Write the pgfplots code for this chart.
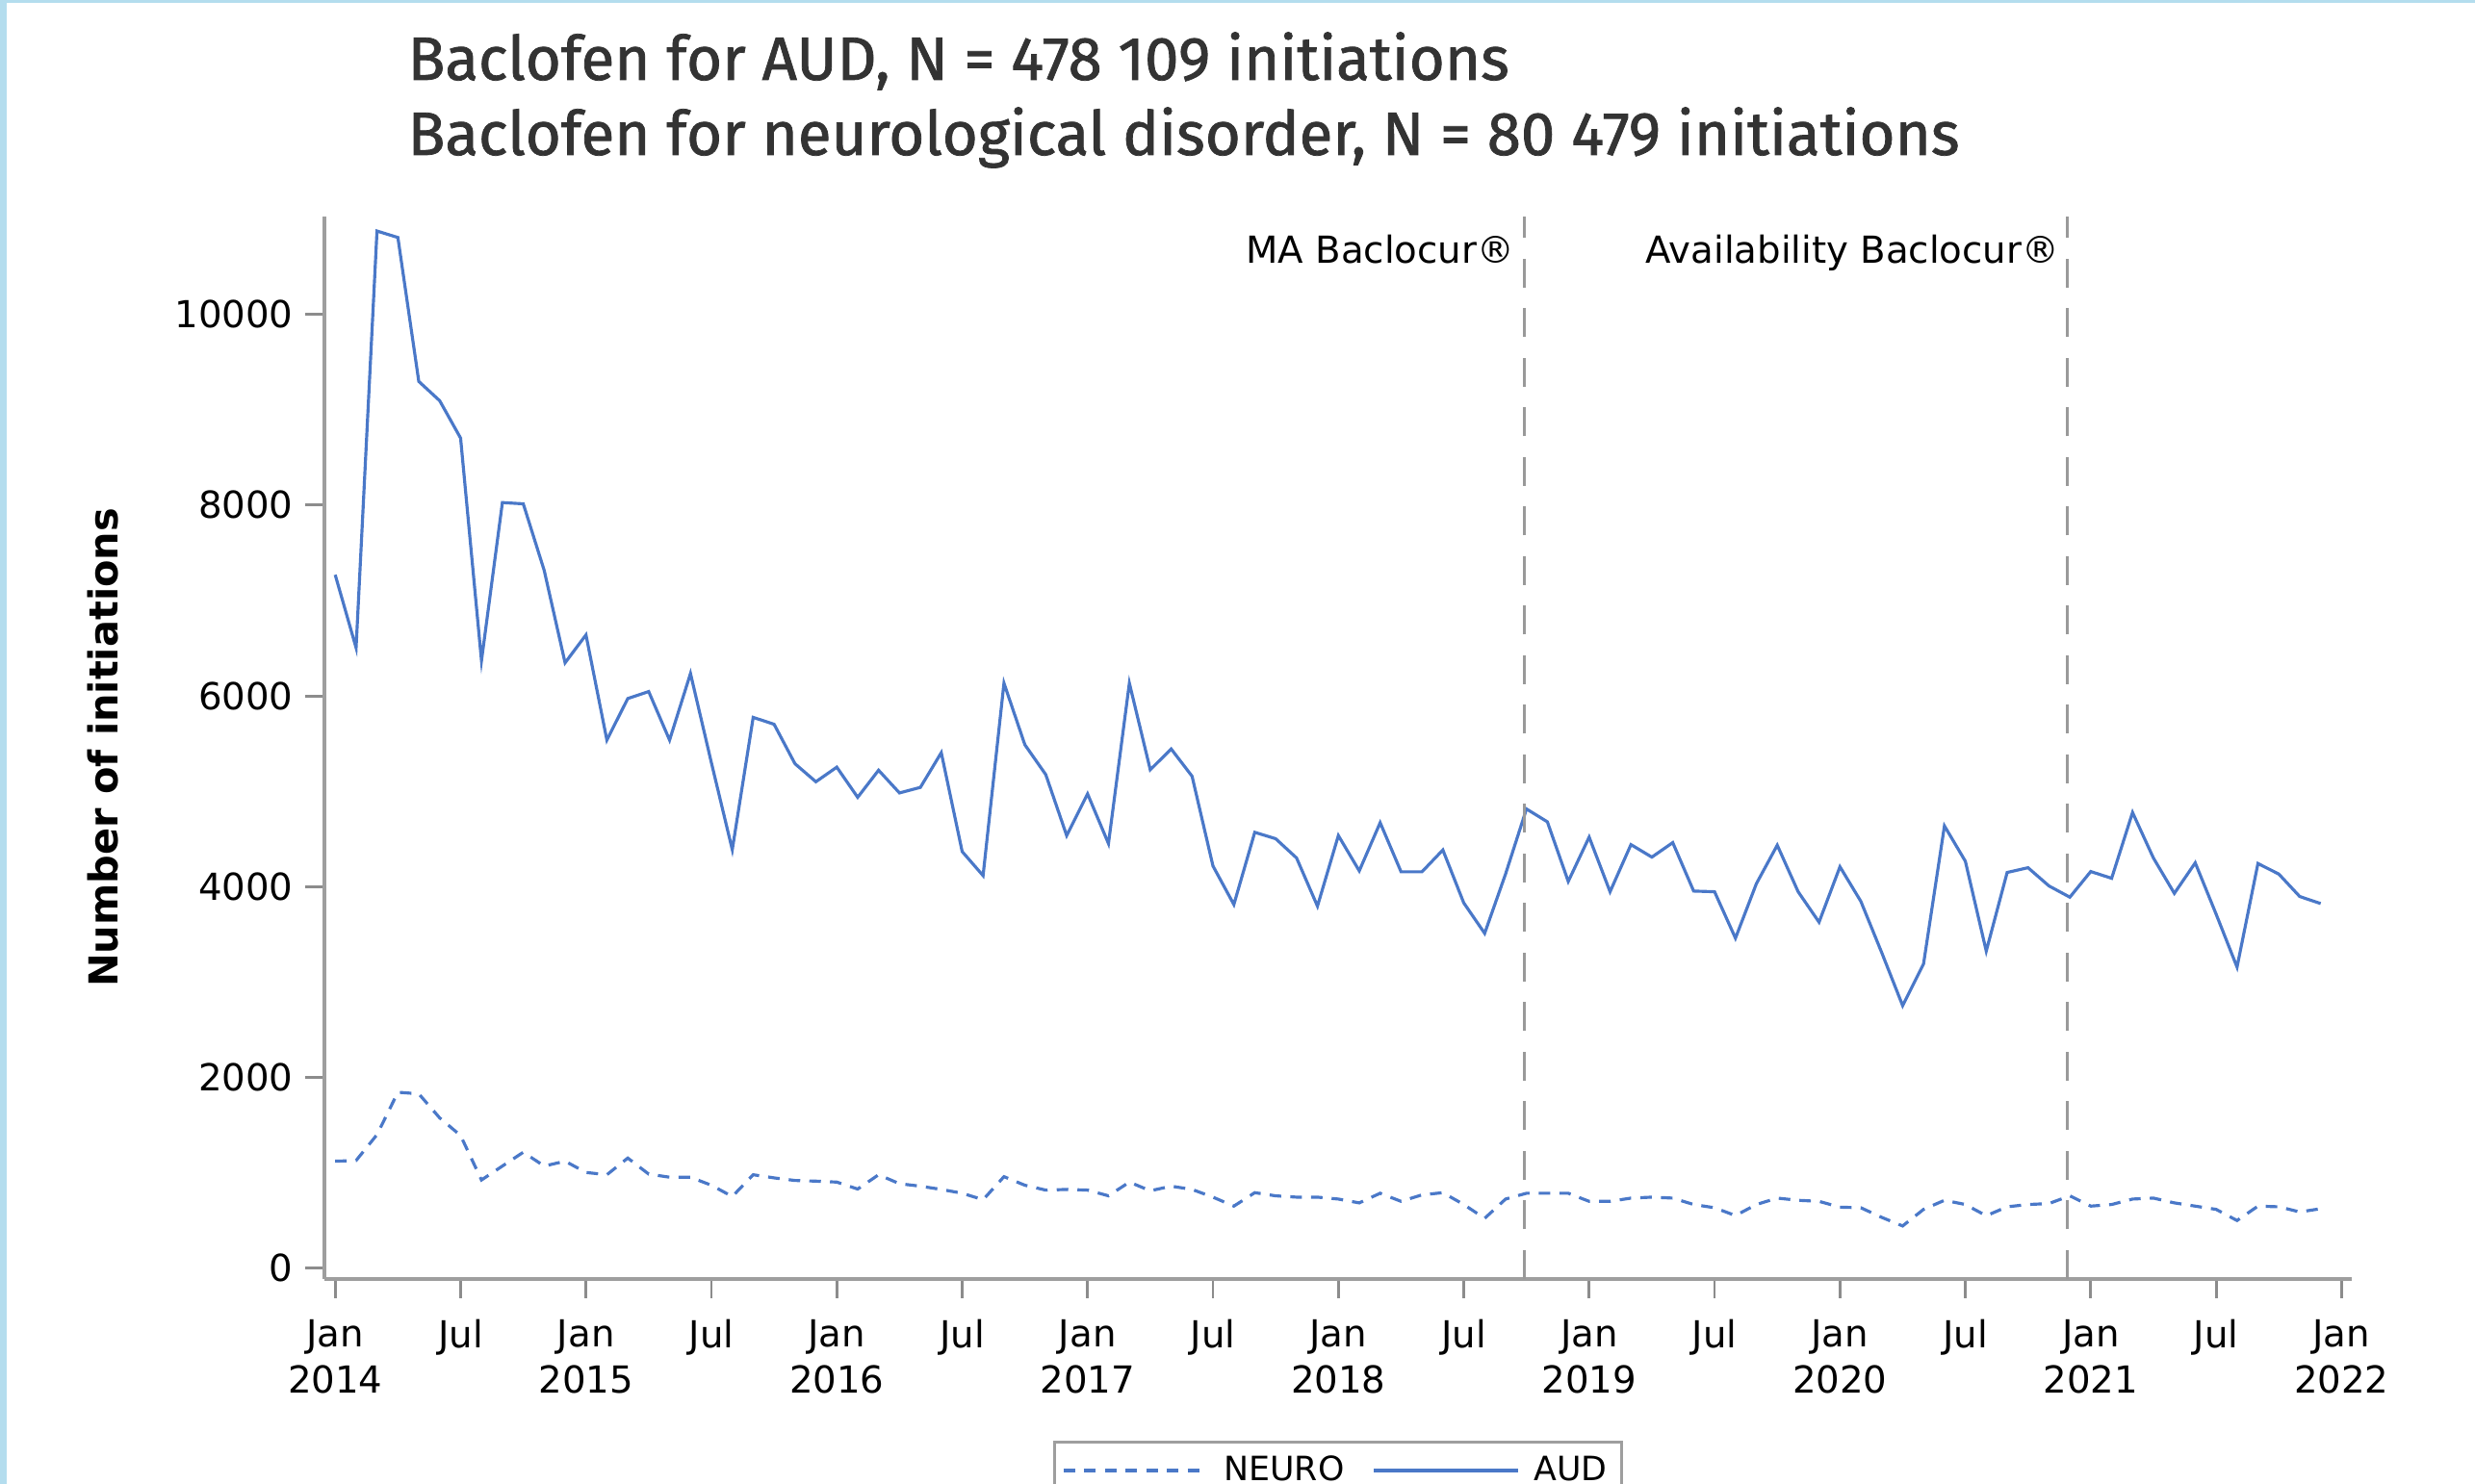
\documentclass[border=0pt]{standalone}
\usepackage{fontspec}
\usepackage{pgfplots}
\usepackage{pgfplotstable}
\pgfplotsset{compat=1.18}
\newfontfamily\tickfont{DejaVu Sans}
\newfontfamily\titlefont[FakeBold=1.2]{Fira Sans}
\definecolor{lineblue}{HTML}{4A78C8}
\definecolor{axgray}{HTML}{9E9E9E}
\definecolor{tickgray}{HTML}{8C8C8C}
\definecolor{refgray}{HTML}{999999}
\definecolor{frameblue}{HTML}{B4DDEE}
\definecolor{titlegray}{HTML}{333333}

\pgfplotstableread{
i aud neuro
0 7270 1122
1 6505 1129
2 10874 1400
3 10806 1845
4 9297 1828
5 9095 1576
6 8703 1391
7 6370 925
8 8027 1071
9 8014 1216
10 7316 1071
11 6347 1122
12 6640 1004
13 5537 980
14 5973 1155
15 6046 987
16 5537 954
17 6235 954
18 5300 870
19 4388 752
20 5775 980
21 5703 947
22 5289 920
23 5100 913
24 5253 903
25 4937 830
26 5221 980
27 4983 886
28 5041 860
29 5405 826
30 4368 786
31 4116 718
32 6134 960
33 5488 870
34 5175 819
35 4536 826
36 4973 819
37 4452 759
38 6134 903
39 5226 812
40 5444 860
41 5158 826
42 4217 745
43 3813 651
44 4570 792
45 4503 759
46 4301 745
47 3796 745
48 4536 725
49 4166 685
50 4671 786
51 4156 701
52 4156 769
53 4385 792
54 3830 668
55 3511 523
56 4133 725
57 4815 786
58 4680 786
59 4055 786
60 4520 701
61 3947 701
62 4441 735
63 4310 745
64 4462 735
65 3954 668
66 3947 634
67 3460 552
68 4031 668
69 4435 735
70 3947 712
71 3628 701
72 4209 640
73 3846 634
74 3308 533
75 2753 443
76 3191 617
77 4637 712
78 4267 668
79 3325 550
80 4149 644
81 4199 668
82 4008 678
83 3890 759
84 4159 651
85 4088 668
86 4778 725
87 4300 735
88 3930 685
89 4250 651
90 3712 617
91 3157 500
92 4243 651
93 4132 644
94 3897 590
95 3823 624
}\datatable

\begin{document}
\begin{tikzpicture}
\fill[frameblue] (0,0) rectangle (0.07,15.42);
\fill[frameblue] (0,15.385) rectangle (25.71,15.42);
\node[anchor=base west, inner sep=0, font=\titlefont\fontsize{18.1}{22}\selectfont, text=titlegray] at (4.23,14.59) {Baclofen for AUD, N = 478 109 initiations};
\node[anchor=base west, inner sep=0, font=\titlefont\fontsize{18.1}{22}\selectfont, text=titlegray] at (4.23,13.81) {Baclofen for neurological disorder, N = 80 479 initiations};
\begin{axis}[
  at={(3.37cm,2.13cm)}, anchor=south west,
  scale only axis, width=21.06cm, height=11.04cm,
  xmin=-0.516, xmax=96.49, ymin=-113, ymax=11026,
  axis x line*=bottom, axis y line*=left,
  axis line style={axgray, line width=1.1pt, -},
  tick style={tickgray, line width=0.8pt},
  major tick length=2mm, tick align=outside,
  scaled y ticks=false,
  xtick={0,6,...,96},
  xticklabels={Jan\\2014,Jul,Jan\\2015,Jul,Jan\\2016,Jul,Jan\\2017,Jul,Jan\\2018,Jul,Jan\\2019,Jul,Jan\\2020,Jul,Jan\\2021,Jul,Jan\\2022},
  xticklabel style={align=center, font=\tickfont\fontsize{11}{13.6}\selectfont, yshift=-1mm},
  ytick={0,2000,4000,6000,8000,10000},
  yticklabels={0,2000,4000,6000,8000,10000},
  yticklabel style={font=\tickfont\fontsize{11}{13}\selectfont},
  /pgf/number format/assume math mode=true,
  ylabel={Number of initiations},
  ylabel style={at={(axis description cs:-0.1092,0.5)}, anchor=center, font=\tickfont\bfseries\fontsize{11.8}{14}\selectfont},
  legend columns=2,
  legend style={at={(axis description cs:0.5,-0.1522)}, anchor=north, draw=axgray, line width=0.8pt, inner xsep=0.8mm, font=\tickfont\fontsize{9.9}{12}\selectfont, /tikz/every even column/.append style={column sep=0.22cm}, /tikz/every odd column/.append style={column sep=0.08cm}},
  legend image code/.code={\draw[#1] (0cm,0cm) -- (1.5cm,0cm);},
  clip=false,
]
\addplot[lineblue, line width=0.9pt, dash pattern=on 1.2mm off 0.95mm] table[x=i, y=neuro] {\datatable};
\addlegendentry{NEURO}
\addplot[lineblue, line width=0.9pt] table[x=i, y=aud] {\datatable};
\addlegendentry{AUD}
\addplot[refgray, line width=0.9pt, dash pattern=on 3mm off 2.15mm, forget plot] coordinates {(56.9,-113) (56.9,11026)};
\addplot[refgray, line width=0.9pt, dash pattern=on 3mm off 2.15mm, forget plot] coordinates {(82.88,-113) (82.88,11026)};
\node[anchor=base east, inner sep=0, xshift=-1mm, font=\tickfont\fontsize{11}{13}\selectfont] at (axis cs:56.9,10532) {MA Baclocur®};
\node[anchor=base east, inner sep=0, xshift=-0.8mm, font=\tickfont\fontsize{11}{13}\selectfont] at (axis cs:82.88,10532) {Availability Baclocur®};
\end{axis}
\pgfresetboundingbox
\useasboundingbox (0,0) rectangle (25.71,15.42);
\end{tikzpicture}
\end{document}
